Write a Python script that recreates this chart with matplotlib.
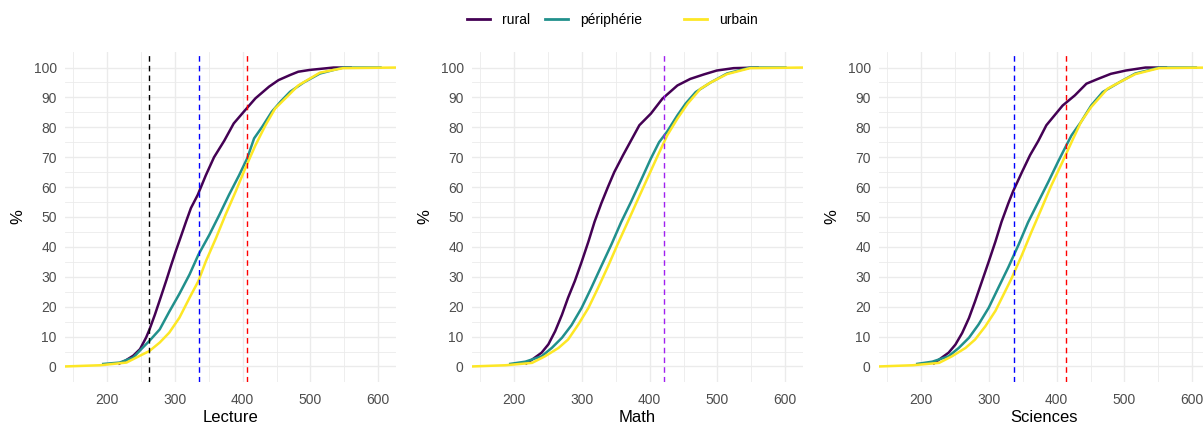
import matplotlib
matplotlib.use("Agg")
import matplotlib.pyplot as plt
from matplotlib.lines import Line2D
import numpy as np

plt.rcParams['font.family'] = ['Liberation Sans', 'DejaVu Sans']

subjects = ["Lecture", "Math", "Sciences"]
groups = ["rural", "périphérie", "urbain"]
colors = {"rural": "#440154", "périphérie": "#21908C", "urbain": "#FDE725"}

# --- Lecture (score, cumulative %) ---
lec_rural_x = [217, 227, 239, 249, 258, 263, 271, 280, 288, 295, 302, 310, 317, 324, 334, 346, 358, 373, 387, 404, 419, 439, 453, 470, 482, 499, 534, 561]
lec_rural_y = [0.8, 1.9, 3.6, 5.8, 9.7, 12.4, 17.4, 23.5, 29, 34, 38.8, 44, 48.6, 53, 57.4, 64, 70, 75.5, 81.3, 85.8, 89.7, 93.6, 95.8, 97.5, 98.6, 99.2, 100, 100]
lec_peri_x = [193, 219, 239, 253, 263, 278, 292, 307, 322, 335, 351, 366, 380, 395, 407, 417, 429, 443, 456, 470, 490, 514, 548, 605]
lec_peri_y = [0.8, 1.3, 3, 6.3, 8.6, 12.4, 18.3, 24.3, 30.8, 37.4, 44, 50.8, 57.4, 64, 69.7, 76.3, 80.2, 85.2, 88.6, 91.9, 95, 98, 100, 100]
lec_urb_x = [138, 190, 229, 249, 263, 278, 292, 307, 322, 335, 346, 361, 375, 390, 404, 419, 434, 448, 468, 482, 514, 548, 626]
lec_urb_y = [0, 0.4, 1.3, 3.6, 5.2, 8, 11.3, 16.3, 23, 28.6, 35.2, 43, 50.8, 58.6, 66.3, 74, 80.8, 86.3, 90.8, 94, 98.3, 99.8, 100]

# --- Math ---
mat_rural_x = [217, 227, 241, 251, 261, 271, 280, 290, 300, 310, 319, 329, 339, 348, 361, 373, 385, 402, 419, 441, 460, 480, 499, 524, 561]
mat_rural_y = [0.8, 2.3, 4.6, 7.4, 11.8, 17.3, 23, 28.6, 35, 41.8, 48.4, 54.6, 60.2, 65, 70.7, 75.7, 80.7, 84.6, 89.6, 94, 96.2, 97.7, 99, 99.8, 100]
mat_peri_x = [193, 217, 241, 256, 271, 285, 300, 314, 329, 344, 358, 373, 388, 402, 414, 426, 441, 453, 468, 490, 514, 548, 602]
mat_peri_y = [0.8, 1.6, 3.4, 6.2, 9.6, 13.8, 19.6, 26.2, 33.6, 40.9, 48.2, 55.2, 62.6, 69.6, 75, 78.6, 84, 87.9, 91.8, 95, 98, 100, 100]
mat_urb_x = [138, 188, 227, 246, 266, 280, 295, 310, 324, 339, 353, 368, 383, 397, 412, 426, 441, 456, 475, 490, 514, 548, 626]
mat_urb_y = [0, 0.4, 1.2, 3.4, 6.2, 9, 14, 19.6, 26.2, 33.6, 40.9, 48.4, 56, 63, 70.5, 77.3, 82.9, 87.9, 92.9, 95, 97.8, 99.8, 100]

# --- Sciences ---
sci_rural_x = [218, 227, 241, 251, 261, 271, 280, 290, 300, 310, 319, 329, 336, 349, 361, 373, 385, 409, 427, 444, 461, 480, 502, 531, 563]
sci_rural_y = [0.8, 2.3, 4.6, 7.3, 11.2, 16.2, 21.8, 28.4, 35, 41.8, 48.4, 54.6, 58.6, 65, 70.7, 75.4, 80.7, 87.3, 90.7, 94.6, 96.2, 97.9, 99, 100, 100]
sci_peri_x = [193, 217, 241, 256, 271, 285, 300, 314, 329, 344, 358, 373, 388, 402, 412, 422, 436, 451, 468, 492, 516, 551, 607]
sci_peri_y = [0.8, 1.6, 3.4, 6.2, 9.6, 14, 19.6, 26.2, 33.2, 40.7, 48.2, 55, 61.8, 68.4, 72.9, 77.3, 81.8, 87.3, 91.8, 95, 98, 100, 100]
sci_urb_x = [138, 188, 227, 246, 266, 280, 295, 310, 324, 334, 349, 363, 378, 392, 407, 422, 436, 451, 475, 492, 516, 551, 626]
sci_urb_y = [0, 0.4, 1.2, 3.4, 6.2, 9, 13.4, 18.6, 25, 29.6, 37.3, 45, 52.9, 60.4, 67.6, 75, 81.8, 86.8, 92.9, 95, 97.8, 99.8, 100]

curves = {
    "Lecture": {"rural": (lec_rural_x, lec_rural_y), "périphérie": (lec_peri_x, lec_peri_y), "urbain": (lec_urb_x, lec_urb_y)},
    "Math": {"rural": (mat_rural_x, mat_rural_y), "périphérie": (mat_peri_x, mat_peri_y), "urbain": (mat_urb_x, mat_urb_y)},
    "Sciences": {"rural": (sci_rural_x, sci_rural_y), "périphérie": (sci_peri_x, sci_peri_y), "urbain": (sci_urb_x, sci_urb_y)},
}

# reference vertical lines (value, colour)
vlines = {
    "Lecture": [(262, "black"), (336, "#0000FF"), (407, "#FF0000")],
    "Math": [(421, "#A020F0")],
    "Sciences": [(338, "#0000FF"), (414, "#FF0000")],
}

x_ticks = [200, 300, 400, 500, 600]
y_ticks = list(range(0, 101, 10))

fig = plt.figure(figsize=(12.03, 4.25), dpi=100)
lefts = [65, 472, 879]
W, H = 1203, 425
for i, subj in enumerate(subjects):
    ax = fig.add_axes([lefts[i] / W, 1 - 382 / H, 331 / W, 330 / H])
    ax.set_xlim(138.5, 626)
    ax.set_ylim(-5.2, 105.2)
    ax.set_xticks(x_ticks)
    ax.set_xticks(np.arange(150, 626, 100), minor=True)
    ax.set_yticks(y_ticks)
    ax.set_yticks(np.arange(5, 101, 10), minor=True)
    ax.grid(True, which="major", color="#EBEBEB", linewidth=1.0)
    ax.grid(True, which="minor", color="#EBEBEB", linewidth=0.6)
    ax.set_axisbelow(True)
    for s in ax.spines.values():
        s.set_visible(False)
    ax.tick_params(which="both", length=0)
    ax.tick_params(axis="y", labelsize=10, colors="#4D4D4D", pad=6)
    ax.tick_params(axis="x", labelsize=10, colors="#4D4D4D", pad=8)
    for g in groups:
        xs, ys = curves[subj][g]
        ax.plot(xs, ys, color=colors[g], linewidth=1.8, solid_capstyle="butt",
                solid_joinstyle="round")
    for v, c in vlines[subj]:
        ax.axvline(v, color=c, linestyle=(0, (4, 3)), linewidth=1.0)
    ax.set_xlabel(subj, fontsize=12, color="black", labelpad=2)
    ax.set_ylabel("%", fontsize=12, color="black", labelpad=6)

# legend entries placed individually (ggplot-like spacing)
legend_x = [467, 545, 684]
for g, lx in zip(groups, legend_x):
    h = Line2D([], [], color=colors[g], linewidth=2)
    fig.legend([h], [g], loc="center left", bbox_to_anchor=(lx / W, 1 - 20 / H),
               frameon=False, fontsize=10, handlelength=1.65, handletextpad=0.85,
               borderpad=0, borderaxespad=0)

fig.savefig("out.png", dpi=100, facecolor="white")
